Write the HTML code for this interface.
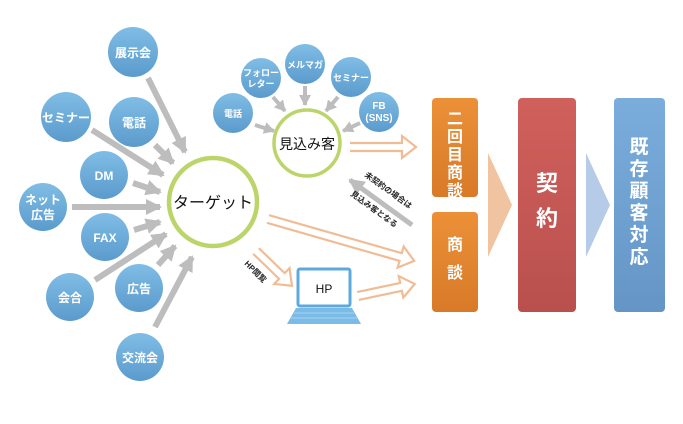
<!DOCTYPE html>
<html><head><meta charset="utf-8"><style>
html,body{margin:0;padding:0;background:#fff;}
svg{display:block;font-family:"Liberation Sans","Noto Sans CJK JP",sans-serif;}
</style></head><body>
<svg width="683" height="424" viewBox="0 0 683 424" xmlns="http://www.w3.org/2000/svg">
<defs>
<linearGradient id="bc" x1="0" y1="0" x2="0" y2="1"><stop offset="0" stop-color="#80bde6"/><stop offset="1" stop-color="#5b9bcc"/></linearGradient>
<linearGradient id="og" x1="0" y1="0" x2="0" y2="1"><stop offset="0" stop-color="#ec9038"/><stop offset="1" stop-color="#d87a28"/></linearGradient>
<linearGradient id="rg" x1="0" y1="0" x2="0" y2="1"><stop offset="0" stop-color="#d0605c"/><stop offset="1" stop-color="#b9504e"/></linearGradient>
<linearGradient id="blg" x1="0" y1="0" x2="0" y2="1"><stop offset="0" stop-color="#7aaddc"/><stop offset="1" stop-color="#6495c6"/></linearGradient>
<marker id="ga" markerUnits="userSpaceOnUse" markerWidth="18" markerHeight="18" refX="14" refY="9" orient="auto"><path d="M0,1 L16,9 L0,17 Z" fill="#bdbdbd"/></marker>
<marker id="gs" markerUnits="userSpaceOnUse" markerWidth="12" markerHeight="12" refX="10" refY="6" orient="auto"><path d="M0,0 L11,6 L0,12 Z" fill="#bdbdbd"/></marker>
</defs>
<g stroke="#bdbdbd" stroke-width="6" marker-end="url(#ga)">
<line x1="148" y1="78" x2="185" y2="152"/>
<line x1="92" y1="130" x2="163" y2="175"/>
<line x1="155" y1="145" x2="173" y2="163"/>
<line x1="133" y1="183" x2="160" y2="192"/>
<line x1="72" y1="207" x2="160" y2="207"/>
<line x1="134" y1="230" x2="160" y2="222"/>
<line x1="95" y1="280" x2="166" y2="234"/>
<line x1="158" y1="265" x2="175" y2="246"/>
<line x1="155" y1="327" x2="192" y2="257"/>
</g>
<g stroke="#bdbdbd" stroke-width="4" marker-end="url(#gs)">
<line x1="255" y1="125" x2="274" y2="131"/>
<line x1="273" y1="97" x2="285" y2="111"/>
<line x1="305" y1="86" x2="305" y2="105"/>
<line x1="338" y1="97" x2="326" y2="111"/>
<line x1="360" y1="123" x2="343" y2="131"/>
</g>
<line x1="412" y1="225" x2="350" y2="180" stroke="#bdbdbd" stroke-width="5" marker-end="url(#ga)"/>
<g fill="url(#bc)">
<circle cx="133" cy="52" r="25"/><circle cx="66" cy="117" r="25"/><circle cx="134" cy="122" r="25"/>
<circle cx="104" cy="175" r="24"/><circle cx="43" cy="207" r="24"/><circle cx="105" cy="237" r="24"/>
<circle cx="70" cy="297" r="24"/><circle cx="139" cy="288" r="24"/><circle cx="140" cy="357" r="24"/>
<circle cx="233" cy="113" r="20"/><circle cx="261" cy="78" r="20"/><circle cx="305" cy="64" r="20"/>
<circle cx="351" cy="77" r="20"/><circle cx="379" cy="112" r="20"/>
</g>
<g fill="#fff" font-size="12" text-anchor="middle" font-weight="bold">
<text x="133" y="57">展示会</text><text x="66" y="122">セミナー</text><text x="134" y="127">電話</text>
<text x="104" y="180">DM</text><text x="43" y="204">ネット</text><text x="43" y="219">広告</text>
<text x="105" y="242">FAX</text><text x="70" y="302">会合</text><text x="139" y="293">広告</text><text x="140" y="362">交流会</text>
</g>
<g fill="#fff" font-size="9" text-anchor="middle" font-weight="bold">
<text x="233" y="117">電話</text><text x="261" y="76">フォロー</text><text x="261" y="87">レター</text>
<text x="305" y="68">メルマガ</text><text x="351" y="81">セミナー</text>
<text x="379" y="109" font-size="10">FB</text><text x="379" y="121" font-size="10">(SNS)</text>
</g>
<circle cx="213" cy="202" r="44" fill="#fff" stroke="#bcd56a" stroke-width="4.5"/>
<text x="213" y="208" font-size="16" text-anchor="middle" fill="#111">ターゲット</text>
<circle cx="307" cy="143" r="33" fill="#fff" stroke="#bcd56a" stroke-width="3.5"/>
<text x="307" y="149" font-size="14" text-anchor="middle" fill="#111">見込み客</text>
<g fill="#fff" stroke="#f0bc96" stroke-width="2.2">
<path transform="translate(350,147)" d="M0,-4 L52,-4 L52,-11 L66,0 L52,11 L52,4 L0,4"/>
<path transform="translate(268,219) rotate(16)" d="M0,-4 L138,-4 L138,-11 L152,0 L138,11 L138,4 L0,4"/>
<path transform="translate(256,251) rotate(44)" d="M0,-4 L36,-4 L36,-11 L50,0 L36,11 L36,4 L0,4"/>
<path transform="translate(358,296) rotate(-12)" d="M0,-4 L44,-4 L44,-11 L58,0 L44,11 L44,4 L0,4"/>
</g>
<text transform="translate(244,264) rotate(45)" font-size="8" fill="#222" font-weight="bold">HP閲覧</text>
<text transform="translate(364,176) rotate(36)" font-size="8" fill="#222" font-weight="bold">未契約の場合は</text>
<text transform="translate(350,195) rotate(36)" font-size="8" fill="#222" font-weight="bold">見込み客となる</text>
<rect x="298" y="269" width="52" height="37" rx="2" fill="#fff" stroke="#5ea8e0" stroke-width="3"/>
<path d="M296,308 L352,308 L361,324 L287,324 Z" fill="#7bbbe8"/>
<g stroke="#d8ecfa" stroke-width="0.6"><line x1="294" y1="313" x2="354" y2="313"/><line x1="291" y1="318" x2="357" y2="318"/></g>
<text x="324" y="293" font-size="12" text-anchor="middle" fill="#111">HP</text>
<rect x="432" y="98" width="46" height="99" rx="4" fill="url(#og)"/>
<rect x="432" y="212" width="46" height="100" rx="4" fill="url(#og)"/>
<path d="M488,153 L512,205 L488,257 Z" fill="#f0c4a0"/>
<rect x="518" y="98" width="58" height="214" rx="4" fill="url(#rg)"/>
<path d="M586,153 L610,205 L586,257 Z" fill="#b6cbe8"/>
<rect x="614" y="98" width="51" height="214" rx="4" fill="url(#blg)"/>
<g fill="#fff" text-anchor="middle" font-weight="bold">
<g font-size="16"><text x="455" y="124">二</text><text x="455" y="142">回</text><text x="455" y="160">目</text><text x="455" y="178">商</text><text x="455" y="196">談</text>
<text x="455" y="250">商</text><text x="455" y="278">談</text></g>
<g font-size="22"><text x="547" y="191">契</text><text x="547" y="226">約</text></g>
<g font-size="19"><text x="639" y="153">既</text><text x="639" y="175">存</text><text x="639" y="197">顧</text><text x="639" y="219">客</text><text x="639" y="241">対</text><text x="639" y="263">応</text></g>
</g>
</svg>
</body></html>
